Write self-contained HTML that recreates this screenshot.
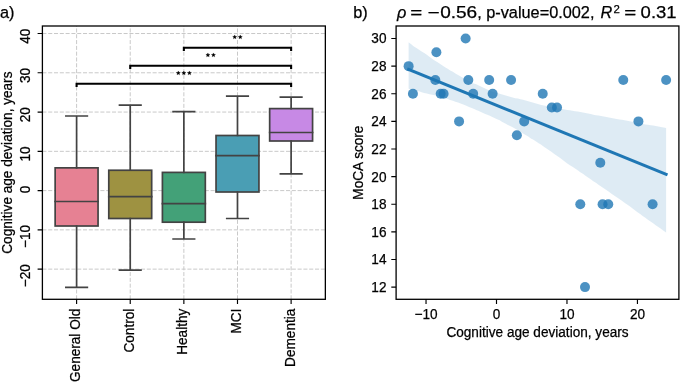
<!DOCTYPE html><html><head><meta charset="utf-8"><style>html,body{margin:0;padding:0;background:#fff;width:685px;height:385px;overflow:hidden}svg{display:block;filter:blur(0.4px)}text{font-family:"Liberation Sans",sans-serif;fill:#000;stroke:#000;stroke-width:0.25px}</style></head><body>
<svg width="685" height="385" viewBox="0 0 685 385">
<rect width="685" height="385" fill="#fff"/>
<path d="M42.4,33.52H325.35M42.4,72.79H325.35M42.4,112.06H325.35M42.4,151.33H325.35M42.4,190.60H325.35M42.4,229.87H325.35M42.4,269.14H325.35" stroke="#c9c9c9" stroke-width="1" stroke-dasharray="4.05 1.75" fill="none"/>
<path d="M76.60,299.3V26.0M130.23,299.3V26.0M183.86,299.3V26.0M237.49,299.3V26.0M291.12,299.3V26.0" stroke="#c9c9c9" stroke-width="1" stroke-dasharray="4.05 1.75" fill="none"/>
<rect x="55.15" y="167.85" width="42.90" height="58.15" fill="#e68193" stroke="#434343" stroke-width="1.7"/>
<path d="M76.60,167.85V116.0M65.87,116.0H87.33M76.60,226.0V287.3M65.87,287.3H87.33M55.15,201.5H98.05" stroke="#434343" stroke-width="1.7" fill="none" stroke-linecap="square"/>
<rect x="108.78" y="170.25" width="42.90" height="48.25" fill="#9e9241" stroke="#434343" stroke-width="1.7"/>
<path d="M130.23,170.25V105.2M119.50,105.2H140.96M130.23,218.5V270.1M119.50,270.1H140.96M108.78,196.7H151.68" stroke="#434343" stroke-width="1.7" fill="none" stroke-linecap="square"/>
<rect x="162.41" y="172.4" width="42.90" height="49.80" fill="#43a178" stroke="#434343" stroke-width="1.7"/>
<path d="M183.86,172.4V111.6M173.13,111.6H194.59M183.86,222.2V239.0M173.13,239.0H194.59M162.41,203.6H205.31" stroke="#434343" stroke-width="1.7" fill="none" stroke-linecap="square"/>
<rect x="216.04" y="135.5" width="42.90" height="56.50" fill="#4a9eb4" stroke="#434343" stroke-width="1.7"/>
<path d="M237.49,135.5V96.1M226.76,96.1H248.22M237.49,192.0V218.5M226.76,218.5H248.22M216.04,155.7H258.94" stroke="#434343" stroke-width="1.7" fill="none" stroke-linecap="square"/>
<rect x="269.67" y="108.6" width="42.90" height="32.40" fill="#c789e5" stroke="#434343" stroke-width="1.7"/>
<path d="M291.12,108.6V97.1M280.39,97.1H301.85M291.12,141.0V173.8M280.39,173.8H301.85M269.67,132.5H312.57" stroke="#434343" stroke-width="1.7" fill="none" stroke-linecap="square"/>
<path d="M183.86,50.0V47.8H291.12V50.0" stroke="#000" stroke-width="2.1" fill="none" stroke-linejoin="miter" stroke-linecap="square"/>
<polygon points="234.72,34.95 235.28,36.32 236.76,36.44 235.64,37.40 235.98,38.84 234.72,38.07 233.45,38.84 233.79,37.40 232.67,36.44 234.15,36.32" fill="#000" stroke="#000" stroke-width="0.3" stroke-linejoin="round"/>
<polygon points="240.27,34.95 240.83,36.32 242.31,36.44 241.19,37.40 241.53,38.84 240.27,38.07 239.00,38.84 239.34,37.40 238.22,36.44 239.70,36.32" fill="#000" stroke="#000" stroke-width="0.3" stroke-linejoin="round"/>
<path d="M130.23,68.0V65.8H291.12V68.0" stroke="#000" stroke-width="2.1" fill="none" stroke-linejoin="miter" stroke-linecap="square"/>
<polygon points="207.90,52.95 208.47,54.32 209.94,54.44 208.82,55.40 209.16,56.84 207.90,56.07 206.64,56.84 206.98,55.40 205.86,54.44 207.33,54.32" fill="#000" stroke="#000" stroke-width="0.3" stroke-linejoin="round"/>
<polygon points="213.45,52.95 214.02,54.32 215.49,54.44 214.37,55.40 214.71,56.84 213.45,56.07 212.19,56.84 212.53,55.40 211.41,54.44 212.88,54.32" fill="#000" stroke="#000" stroke-width="0.3" stroke-linejoin="round"/>
<path d="M76.60,86.0V83.8H291.12V86.0" stroke="#000" stroke-width="2.1" fill="none" stroke-linejoin="miter" stroke-linecap="square"/>
<polygon points="178.31,70.95 178.88,72.32 180.35,72.44 179.23,73.40 179.57,74.84 178.31,74.07 177.05,74.84 177.39,73.40 176.27,72.44 177.74,72.32" fill="#000" stroke="#000" stroke-width="0.3" stroke-linejoin="round"/>
<polygon points="183.86,70.95 184.43,72.32 185.90,72.44 184.78,73.40 185.12,74.84 183.86,74.07 182.60,74.84 182.94,73.40 181.82,72.44 183.29,72.32" fill="#000" stroke="#000" stroke-width="0.3" stroke-linejoin="round"/>
<polygon points="189.41,70.95 189.98,72.32 191.45,72.44 190.33,73.40 190.67,74.84 189.41,74.07 188.15,74.84 188.49,73.40 187.37,72.44 188.84,72.32" fill="#000" stroke="#000" stroke-width="0.3" stroke-linejoin="round"/>
<rect x="42.4" y="26.0" width="282.95" height="273.30" fill="none" stroke="#000" stroke-width="1.3"/>
<text transform="translate(30.30,28.62) rotate(-90)" font-size="14.28" text-anchor="end" textLength="15.13" lengthAdjust="spacingAndGlyphs">40</text>
<text transform="translate(30.30,67.89) rotate(-90)" font-size="14.28" text-anchor="end" textLength="15.13" lengthAdjust="spacingAndGlyphs">30</text>
<text transform="translate(30.30,107.16) rotate(-90)" font-size="14.28" text-anchor="end" textLength="15.13" lengthAdjust="spacingAndGlyphs">20</text>
<text transform="translate(30.30,146.43) rotate(-90)" font-size="14.28" text-anchor="end" textLength="15.13" lengthAdjust="spacingAndGlyphs">10</text>
<text transform="translate(30.30,185.70) rotate(-90)" font-size="14.28" text-anchor="end" textLength="7.56" lengthAdjust="spacingAndGlyphs">0</text>
<text transform="translate(30.30,224.97) rotate(-90)" font-size="14.28" text-anchor="end" textLength="23.07" lengthAdjust="spacingAndGlyphs">−10</text>
<text transform="translate(30.30,264.24) rotate(-90)" font-size="14.28" text-anchor="end" textLength="23.07" lengthAdjust="spacingAndGlyphs">−20</text>
<path d="M37.60,33.52H42.4M37.60,72.79H42.4M37.60,112.06H42.4M37.60,151.33H42.4M37.60,190.60H42.4M37.60,229.87H42.4M37.60,269.14H42.4M76.60,299.3V304.10M130.23,299.3V304.10M183.86,299.3V304.10M237.49,299.3V304.10M291.12,299.3V304.10" stroke="#000" stroke-width="1.15" fill="none"/>
<text transform="translate(80.20,308.70) rotate(-90)" font-size="14.28" text-anchor="end" textLength="73.32" lengthAdjust="spacingAndGlyphs">General Old</text>
<text transform="translate(133.83,308.70) rotate(-90)" font-size="14.28" text-anchor="end" textLength="43.84" lengthAdjust="spacingAndGlyphs">Control</text>
<text transform="translate(187.46,308.70) rotate(-90)" font-size="14.28" text-anchor="end" textLength="46.11" lengthAdjust="spacingAndGlyphs">Healthy</text>
<text transform="translate(241.09,308.70) rotate(-90)" font-size="14.28" text-anchor="end" textLength="24.93" lengthAdjust="spacingAndGlyphs">MCI</text>
<text transform="translate(294.72,308.70) rotate(-90)" font-size="14.28" text-anchor="end" textLength="58.20" lengthAdjust="spacingAndGlyphs">Dementia</text>
<text transform="translate(12.20,162.65) rotate(-90)" font-size="14.28" text-anchor="middle" textLength="182.19" lengthAdjust="spacingAndGlyphs">Cognitive age deviation, years</text>
<text x="0" y="17.6" font-size="16.3">a)</text>
<polygon points="408.62,42.25 411.22,44.32 413.83,46.39 416.43,47.96 419.03,49.66 421.63,51.50 424.23,52.96 426.83,54.86 429.43,56.80 432.03,58.75 434.63,60.56 437.23,62.03 439.84,63.70 442.44,65.54 445.04,67.32 447.64,68.71 450.24,70.51 452.84,71.85 455.44,73.54 458.04,75.05 460.64,76.53 463.24,78.09 465.85,79.47 468.45,80.84 471.05,82.22 473.65,83.54 476.25,84.32 478.85,85.56 481.45,86.68 484.05,87.97 486.65,89.31 489.25,90.56 491.86,91.38 494.46,92.29 497.06,93.06 499.66,93.86 502.26,94.52 504.86,95.31 507.46,95.88 510.06,96.69 512.66,97.40 515.26,98.13 517.87,98.60 520.47,99.26 523.07,99.79 525.67,100.51 528.27,101.23 530.87,101.94 533.47,102.74 536.07,103.49 538.67,104.22 541.27,104.95 543.88,105.58 546.48,105.90 549.08,106.49 551.68,107.25 554.28,107.74 556.88,108.04 559.48,108.57 562.08,108.98 564.68,109.46 567.28,109.89 569.88,110.31 572.49,110.74 575.09,111.17 577.69,111.60 580.29,112.03 582.89,112.45 585.49,112.99 588.09,113.55 590.69,114.10 593.29,114.66 595.89,115.18 598.50,115.58 601.10,116.07 603.70,116.54 606.30,116.99 608.90,117.45 611.50,117.90 614.10,118.39 616.70,118.96 619.30,119.46 621.90,119.84 624.51,120.24 627.11,120.76 629.71,121.29 632.31,121.82 634.91,122.43 637.51,123.02 640.11,123.41 642.71,123.91 645.31,124.43 647.91,124.82 650.52,125.15 653.12,125.49 655.72,126.00 658.32,126.53 660.92,127.06 663.52,127.59 666.12,128.12 666.12,232.47 663.52,230.64 660.92,228.82 658.32,226.99 655.72,225.16 653.12,223.33 650.52,221.51 647.91,219.68 645.31,217.85 642.71,216.02 640.11,214.12 637.51,212.18 634.91,210.25 632.31,208.31 629.71,206.37 627.11,204.53 624.51,202.79 621.90,200.86 619.30,199.02 616.70,197.22 614.10,195.42 611.50,193.63 608.90,191.87 606.30,190.12 603.70,188.27 601.10,186.44 598.50,184.64 595.89,182.86 593.29,181.25 590.69,179.29 588.09,177.50 585.49,175.65 582.89,173.87 580.29,172.18 577.69,170.36 575.09,168.54 572.49,166.75 569.88,165.32 567.28,163.39 564.68,161.43 562.08,159.48 559.48,157.57 556.88,155.74 554.28,153.92 551.68,152.09 549.08,150.30 546.48,148.53 543.88,146.66 541.27,144.79 538.67,143.20 536.07,141.49 533.47,139.77 530.87,138.43 528.27,136.62 525.67,134.90 523.07,133.42 520.47,131.68 517.87,130.15 515.26,128.67 512.66,127.25 510.06,126.11 507.46,124.66 504.86,123.37 502.26,122.08 499.66,120.33 497.06,119.25 494.46,118.03 491.86,116.76 489.25,115.61 486.65,114.51 484.05,113.48 481.45,112.25 478.85,111.12 476.25,110.12 473.65,108.85 471.05,107.75 468.45,106.63 465.85,105.51 463.24,104.48 460.64,103.53 458.04,102.57 455.44,101.74 452.84,100.83 450.24,99.93 447.64,99.03 445.04,98.23 442.44,97.31 439.84,96.45 437.23,95.81 434.63,95.26 432.03,94.69 429.43,94.13 426.83,93.56 424.23,92.90 421.63,92.22 419.03,91.20 416.43,90.84 413.83,90.12 411.22,89.44 408.62,88.86" fill="#1f77b4" fill-opacity="0.15"/>
<circle cx="408.62" cy="66.14" r="5" fill="#1f77b4" fill-opacity="0.8"/>
<circle cx="412.92" cy="93.76" r="5" fill="#1f77b4" fill-opacity="0.8"/>
<circle cx="436.39" cy="52.33" r="5" fill="#1f77b4" fill-opacity="0.8"/>
<circle cx="435.33" cy="79.95" r="5" fill="#1f77b4" fill-opacity="0.8"/>
<circle cx="440.69" cy="93.76" r="5" fill="#1f77b4" fill-opacity="0.8"/>
<circle cx="443.58" cy="93.76" r="5" fill="#1f77b4" fill-opacity="0.8"/>
<circle cx="465.63" cy="38.52" r="5" fill="#1f77b4" fill-opacity="0.8"/>
<circle cx="468.31" cy="79.95" r="5" fill="#1f77b4" fill-opacity="0.8"/>
<circle cx="459.08" cy="121.38" r="5" fill="#1f77b4" fill-opacity="0.8"/>
<circle cx="473.17" cy="93.76" r="5" fill="#1f77b4" fill-opacity="0.8"/>
<circle cx="489.17" cy="79.95" r="5" fill="#1f77b4" fill-opacity="0.8"/>
<circle cx="492.62" cy="93.76" r="5" fill="#1f77b4" fill-opacity="0.8"/>
<circle cx="511.09" cy="79.95" r="5" fill="#1f77b4" fill-opacity="0.8"/>
<circle cx="524.19" cy="121.38" r="5" fill="#1f77b4" fill-opacity="0.8"/>
<circle cx="516.87" cy="135.19" r="5" fill="#1f77b4" fill-opacity="0.8"/>
<circle cx="542.73" cy="93.76" r="5" fill="#1f77b4" fill-opacity="0.8"/>
<circle cx="551.82" cy="107.57" r="5" fill="#1f77b4" fill-opacity="0.8"/>
<circle cx="557.03" cy="107.57" r="5" fill="#1f77b4" fill-opacity="0.8"/>
<circle cx="623.28" cy="79.95" r="5" fill="#1f77b4" fill-opacity="0.8"/>
<circle cx="666.12" cy="79.95" r="5" fill="#1f77b4" fill-opacity="0.8"/>
<circle cx="638.43" cy="121.38" r="5" fill="#1f77b4" fill-opacity="0.8"/>
<circle cx="600.30" cy="162.81" r="5" fill="#1f77b4" fill-opacity="0.8"/>
<circle cx="580.29" cy="204.24" r="5" fill="#1f77b4" fill-opacity="0.8"/>
<circle cx="602.56" cy="204.24" r="5" fill="#1f77b4" fill-opacity="0.8"/>
<circle cx="608.27" cy="204.24" r="5" fill="#1f77b4" fill-opacity="0.8"/>
<circle cx="652.59" cy="204.24" r="5" fill="#1f77b4" fill-opacity="0.8"/>
<circle cx="585.01" cy="287.10" r="5" fill="#1f77b4" fill-opacity="0.8"/>
<line x1="408.62" y1="69.5" x2="666.12" y2="174.4" stroke="#1f77b4" stroke-width="3.0" stroke-linecap="square"/>
<rect x="396.1" y="26.0" width="282.80" height="273.30" fill="none" stroke="#000" stroke-width="1.3"/>
<text transform="translate(386.50,292.00)" font-size="14.28" text-anchor="end" textLength="15.13" lengthAdjust="spacingAndGlyphs">12</text>
<text transform="translate(386.50,264.38)" font-size="14.28" text-anchor="end" textLength="15.13" lengthAdjust="spacingAndGlyphs">14</text>
<text transform="translate(386.50,236.76)" font-size="14.28" text-anchor="end" textLength="15.13" lengthAdjust="spacingAndGlyphs">16</text>
<text transform="translate(386.50,209.14)" font-size="14.28" text-anchor="end" textLength="15.13" lengthAdjust="spacingAndGlyphs">18</text>
<text transform="translate(386.50,181.52)" font-size="14.28" text-anchor="end" textLength="15.13" lengthAdjust="spacingAndGlyphs">20</text>
<text transform="translate(386.50,153.90)" font-size="14.28" text-anchor="end" textLength="15.13" lengthAdjust="spacingAndGlyphs">22</text>
<text transform="translate(386.50,126.28)" font-size="14.28" text-anchor="end" textLength="15.13" lengthAdjust="spacingAndGlyphs">24</text>
<text transform="translate(386.50,98.66)" font-size="14.28" text-anchor="end" textLength="15.13" lengthAdjust="spacingAndGlyphs">26</text>
<text transform="translate(386.50,71.04)" font-size="14.28" text-anchor="end" textLength="15.13" lengthAdjust="spacingAndGlyphs">28</text>
<text transform="translate(386.50,43.42)" font-size="14.28" text-anchor="end" textLength="15.13" lengthAdjust="spacingAndGlyphs">30</text>
<text transform="translate(426.03,318.90)" font-size="14.28" text-anchor="middle" textLength="23.07" lengthAdjust="spacingAndGlyphs">−10</text>
<text transform="translate(496.50,318.90)" font-size="14.28" text-anchor="middle" textLength="7.56" lengthAdjust="spacingAndGlyphs">0</text>
<text transform="translate(566.97,318.90)" font-size="14.28" text-anchor="middle" textLength="15.13" lengthAdjust="spacingAndGlyphs">10</text>
<text transform="translate(637.44,318.90)" font-size="14.28" text-anchor="middle" textLength="15.13" lengthAdjust="spacingAndGlyphs">20</text>
<path d="M391.30,287.10H396.1M391.30,259.48H396.1M391.30,231.86H396.1M391.30,204.24H396.1M391.30,176.62H396.1M391.30,149.00H396.1M391.30,121.38H396.1M391.30,93.76H396.1M391.30,66.14H396.1M391.30,38.52H396.1M426.03,299.3V304.10M496.50,299.3V304.10M566.97,299.3V304.10M637.44,299.3V304.10" stroke="#000" stroke-width="1.15" fill="none"/>
<text transform="translate(537.50,337.20)" font-size="14.28" text-anchor="middle" textLength="182.19" lengthAdjust="spacingAndGlyphs">Cognitive age deviation, years</text>
<text transform="translate(363.10,162.65) rotate(-90)" font-size="14.28" text-anchor="middle" textLength="74.07" lengthAdjust="spacingAndGlyphs">MoCA score</text>
<text x="353.3" y="17.6" font-size="16.3">b)</text>
<text x="397.0" y="18.1" font-size="16.3" font-style="italic">ρ</text>
<text x="410.3" y="18.1" font-size="16.3" textLength="12" lengthAdjust="spacingAndGlyphs">=</text>
<text x="427.6" y="18.1" font-size="16.3" textLength="12" lengthAdjust="spacingAndGlyphs">−</text>
<text x="440.2" y="18.1" font-size="16.3" textLength="37" lengthAdjust="spacingAndGlyphs">0.56</text>
<text x="477.2" y="18.1" font-size="16.3">, p-value=0.002,</text>
<text x="600.4" y="18.1" font-size="16.3" font-style="italic">R</text>
<text x="613.4" y="12.6" font-size="11.41">2</text>
<text x="624.2" y="18.1" font-size="16.3" textLength="12" lengthAdjust="spacingAndGlyphs">=</text>
<text x="640.6" y="18.1" font-size="16.3" textLength="36" lengthAdjust="spacingAndGlyphs">0.31</text>
</svg></body></html>
